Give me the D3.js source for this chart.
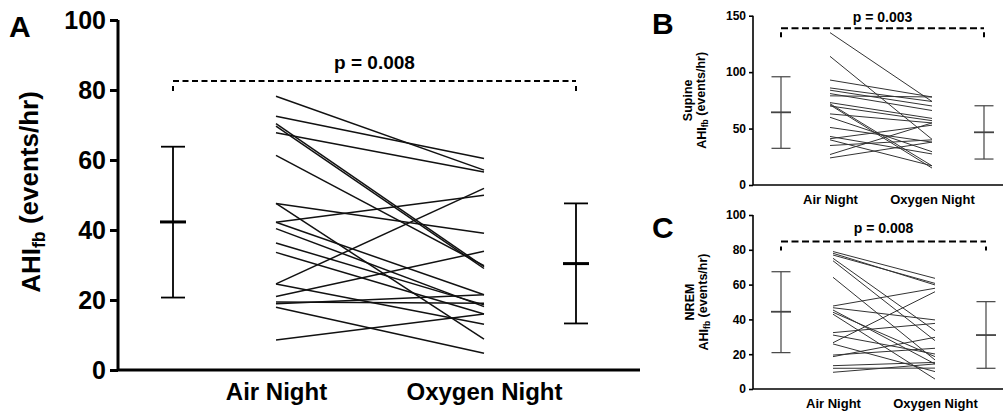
<!DOCTYPE html>
<html lang="en">
<head>
<meta charset="UTF-8">
<title>AHIfb on air and oxygen nights</title>
<style>
	body {
		margin: 0;
		background: #fff;
	}

	svg {
		display: block;
		font-family: "Liberation Sans", Arial, sans-serif;
		font-weight: bold;
	}
</style>
<script src="https://d3js.org/d3.v7.min.js"></script>
</head>
<body>
<script>
	const categories = ["Air Night", "Oxygen Night"];

	// A: overall AHIfb, one pair per participant
	const totalAir = [78.2, 72.5, 70.4, 69.7, 67.8, 61.3, 47.6, 47.6, 42.2, 42.2,
		40.4, 36.3, 33.6, 24.6, 24.6, 21.0, 19.4, 18.9, 17.9, 8.6];
	const totalOxygen = [57.1, 60.4, 29.5, 29.0, 56.6, 29.8, 39.1, 8.8, 49.9, 21.5,
		18.1, 18.6, 16.0, 51.9, 13.1, 33.9, 19.1, 21.5, 4.8, 16.0];
	const totalMean = [42.3, 30.4];
	const totalLow = [20.7, 13.3];
	const totalHigh = [63.8, 47.6];
	const totalTicks = [0, 20, 40, 60, 80, 100];

	// B: supine AHIfb
	const supineAir = [135, 114, 93, 86, 84, 81, 79, 73, 72, 71,
		70, 63, 60, 51, 43, 41, 35, 27, 24, 40];
	const supineOxygen = [74, 40.5, 78, 74, 70, 66, 78, 59, 17, 15,
		57, 55, 29.5, 38, 27.5, 53, 40, 55, 38, 17];
	const supineMean = [64.4, 46.7];
	const supineLow = [32.5, 23.0];
	const supineHigh = [95.9, 70.2];
	const supineTicks = [0, 50, 100, 150];

	// C: NREM AHIfb
	const nremAir = [79, 78, 77, 75.1, 73.7, 64.2, 47.7, 46.7, 45.4, 44.1,
		43, 32.4, 31, 26.6, 25.9, 19.5, 18.6, 13.4, 11.9, 9.6];
	const nremOxygen = [63.6, 59.8, 60.7, 33.5, 27.8, 16.7, 57.9, 39.7, 14.4, 18.6,
		5.7, 37.7, 20.1, 55.9, 10, 23.4, 29.7, 15.3, 12, 14.4];
	const nremMean = [44.4, 31.0];
	const nremLow = [20.9, 11.9];
	const nremHigh = [67.4, 50.2];
	const nremTicks = [0, 20, 40, 60, 80, 100];

	const pLabels = ["p = 0.008", "p = 0.003", "p = 0.008"];

	const svg = d3.select("body").append("svg")
		.attr("width", 1006)
		.attr("height", 416);

	function drawPanel(p)
	{
		const g = svg.append("g");

		const y = d3.scaleLinear().domain([0, p.yMax]).range([p.bottom, p.top]);
		const x = d3.scalePoint().domain(categories).range(p.lineX);
		const bx = d3.scalePoint().domain(categories).range(p.barX);

		// y axis ticks + labels
		const yAxis = g.append("g")
			.attr("transform", `translate(${p.left},0)`)
			.call(d3.axisLeft(y).tickValues(p.ticks).tickSize(p.tick).tickSizeOuter(0).tickPadding(p.tickPad));
		yAxis.select(".domain").remove();
		yAxis.selectAll(".tick line").attr("stroke", "#000").attr("stroke-width", p.axisW);
		yAxis.selectAll(".tick text")
			.attr("fill", "#000")
			.style("font-family", "'Liberation Sans', Arial, sans-serif")
			.style("font-weight", "bold")
			.style("font-size", p.tickFont + "px");

		// axis frame
		g.append("path")
			.attr("d", `M${p.left},${p.top}V${p.bottom}H${p.right}`)
			.attr("fill", "none")
			.attr("stroke", "#000")
			.attr("stroke-width", p.axisW);

		// category labels
		const xAxis = g.append("g")
			.attr("transform", `translate(0,${p.bottom})`)
			.call(d3.axisBottom(x).tickSize(0).tickPadding(p.xPad));
		xAxis.select(".domain").remove();
		xAxis.selectAll(".tick text")
			.attr("fill", "#000")
			.style("font-family", "'Liberation Sans', Arial, sans-serif")
			.style("font-weight", "bold")
			.style("font-size", p.xFont + "px");

		// one line per participant
		g.selectAll(".pair")
			.data(d3.zip(p.air, p.oxygen))
			.join("line")
			.attr("class", "pair")
			.attr("x1", x(categories[0]))
			.attr("x2", x(categories[1]))
			.attr("y1", d => y(d[0]))
			.attr("y2", d => y(d[1]))
			.attr("stroke", p.lineColor)
			.attr("stroke-width", p.lineW);

		// mean +/- SD bars
		categories.forEach((c, i) => {
			const cx = bx(c);
			const eb = g.append("g").attr("stroke", p.barColor).attr("stroke-width", p.barW);
			eb.append("line").attr("x1", cx).attr("x2", cx).attr("y1", y(p.low[i])).attr("y2", y(p.high[i]));
			eb.append("line").attr("x1", cx - p.cap).attr("x2", cx + p.cap).attr("y1", y(p.low[i])).attr("y2", y(p.low[i]));
			eb.append("line").attr("x1", cx - p.cap).attr("x2", cx + p.cap).attr("y1", y(p.high[i])).attr("y2", y(p.high[i]));
			eb.append("line").attr("x1", cx - p.meanCap).attr("x2", cx + p.meanCap)
				.attr("y1", y(p.mean[i])).attr("y2", y(p.mean[i]))
				.attr("stroke-width", p.meanW);
		});

		// significance bracket
		const by = y(p.bracket);
		const x0 = bx(categories[0]), x1 = bx(categories[1]);
		g.append("line")
			.attr("x1", x0).attr("x2", x1).attr("y1", by).attr("y2", by)
			.attr("stroke", "#000").attr("stroke-width", 2)
			.attr("stroke-dasharray", p.dash);
		[x0, x1].forEach(xx => {
			g.append("line")
				.attr("x1", xx).attr("x2", xx)
				.attr("y1", by + p.drop[0]).attr("y2", by + p.drop[1])
				.attr("stroke", "#000").attr("stroke-width", 2);
		});
		g.append("text")
			.attr("x", (x0 + x1) / 2)
			.attr("y", p.pY)
			.attr("text-anchor", "middle")
			.style("font-size", p.pFont + "px")
			.text(p.pText);

		// panel letter
		g.append("text")
			.attr("x", p.letterX)
			.attr("y", p.letterY)
			.style("font-size", "30px")
			.text(p.letter);

		// y title, rotated
		const cy = (p.top + p.bottom) / 2 + p.titleShift;
		p.title.forEach((line, k) => {
			const t = g.append("text")
				.attr("transform", `translate(${p.titleX[k]},${cy}) rotate(-90)`)
				.attr("text-anchor", "middle")
				.style("font-size", p.titleFont + "px");
			if (line === "AHI") {
				t.append("tspan").text("AHI");
				t.append("tspan").attr("dy", "0.28em").style("font-size", (p.titleFont * 0.68) + "px").text("fb");
				t.append("tspan").attr("dy", "-0.28em").text(" (events/hr)");
			} else {
				t.text(line);
			}
		});
	}

	drawPanel({
		letter: "A", letterX: 9, letterY: 37,
		air: totalAir, oxygen: totalOxygen,
		mean: totalMean, low: totalLow, high: totalHigh,
		ticks: totalTicks, yMax: 100, pText: pLabels[0],
		left: 118, right: 640, top: 20, bottom: 370,
		lineX: [276, 484], barX: [173, 576],
		tick: 8, tickPad: 4, tickFont: 25, axisW: 3,
		xPad: 13, xFont: 24,
		lineColor: "#111", lineW: 1.5,
		barColor: "#000", barW: 1.8, cap: 12, meanCap: 13, meanW: 3,
		bracket: 82.6, dash: "6,3.5", drop: [5, 10],
		pY: 69, pFont: 19,
		title: ["AHI"], titleX: [40], titleFont: 26, titleShift: -3
	});

	drawPanel({
		letter: "B", letterX: 652, letterY: 34,
		air: supineAir, oxygen: supineOxygen,
		mean: supineMean, low: supineLow, high: supineHigh,
		ticks: supineTicks, yMax: 150, pText: pLabels[1],
		left: 753, right: 1003, top: 15.7, bottom: 185,
		lineX: [830, 932], barX: [781, 984],
		tick: 4, tickPad: 3, tickFont: 12, axisW: 1.6,
		xPad: 10, xFont: 13,
		lineColor: "#333", lineW: 1,
		barColor: "#444", barW: 1.2, cap: 9.5, meanCap: 10, meanW: 1.8,
		bracket: 138.8, dash: "7,3.5", drop: [4, 9],
		pY: 22, pFont: 14,
		title: ["Supine", "AHI"], titleX: [692, 706], titleFont: 12.5, titleShift: 0
	});

	drawPanel({
		letter: "C", letterX: 652, letterY: 238,
		air: nremAir, oxygen: nremOxygen,
		mean: nremMean, low: nremLow, high: nremHigh,
		ticks: nremTicks, yMax: 100, pText: pLabels[2],
		left: 753, right: 1003, top: 215, bottom: 389,
		lineX: [833, 935], barX: [781, 986],
		tick: 4, tickPad: 3, tickFont: 12, axisW: 1.6,
		xPad: 10, xFont: 13,
		lineColor: "#333", lineW: 1,
		barColor: "#444", barW: 1.2, cap: 9.5, meanCap: 10, meanW: 1.8,
		bracket: 84.7, dash: "7,3.5", drop: [5, 9],
		pY: 233, pFont: 14,
		title: ["NREM", "AHI"], titleX: [694, 708], titleFont: 12.5, titleShift: 0
	});
</script>
</body>
</html>
